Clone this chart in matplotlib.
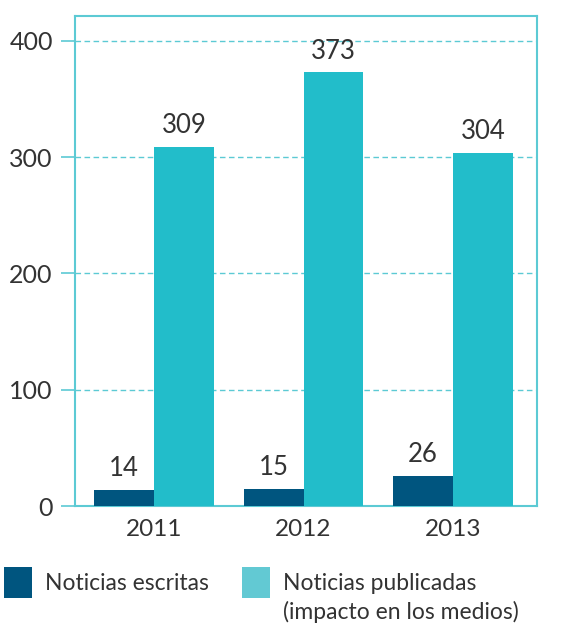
import matplotlib.pyplot as plt
import matplotlib.patches as patches
import numpy as np

years = ["2011", "2012", "2013"]
escritas = [14, 15, 26]
publicadas = [309, 373, 304]
yticks = [0, 100, 200, 300, 400]

DARK = "#00557F"
LIGHT = "#22BDCA"
LIGHT_LEG = "#62C9D3"
FRAME = "#5CCAD4"
TEXT = "#333333"

plt.rcParams['font.family'] = ['Lato', 'DejaVu Sans']
plt.rcParams['text.color'] = TEXT

fig = plt.figure(figsize=(5.88, 6.28), dpi=100)
ax = fig.add_axes([75 / 588, 1 - 506 / 628, 462 / 588, 490 / 628])

x = np.arange(len(years))
w = 0.40
b1 = ax.bar(x - w / 2, escritas, width=w, color=DARK, zorder=3)
b2 = ax.bar(x + w / 2, publicadas, width=w, color=LIGHT, zorder=3)

for bars, vals in [(b1, escritas), (b2, publicadas)]:
    for r, v in zip(bars, vals):
        ax.annotate(str(v), (r.get_x() + r.get_width() / 2, v), xytext=(0, 6),
                    textcoords="offset points", ha="center", va="bottom",
                    fontsize=18.5, color=TEXT)

ax.set_xlim(-0.53, 2.563)
ax.set_ylim(0, 421.5)
ax.set_yticks(yticks)
ax.set_xticks(x)
ax.set_xticklabels(years)
ax.tick_params(axis='y', length=10, width=1.2, color=FRAME, labelsize=18,
               labelcolor=TEXT, pad=6)
ax.tick_params(axis='x', length=0, labelsize=17.5, labelcolor=TEXT, pad=9)

ax.yaxis.grid(True, color=FRAME, linestyle=(0, (4, 2.5)), linewidth=1.0, zorder=1)
ax.xaxis.grid(False)
for s in ['left', 'top', 'right', 'bottom']:
    ax.spines[s].set_color(FRAME)
    ax.spines[s].set_linewidth(1.5)

# legend drawn in figure pixels
H = 628
fig.patches.append(patches.Rectangle((4 / 588, 1 - 598 / H), 28 / 588, 31 / H,
                                     facecolor=DARK, transform=fig.transFigure, figure=fig))
fig.text(45 / 588, 1 - 583 / H, "Noticias escritas", fontsize=16.5, va="center", color=TEXT)
fig.patches.append(patches.Rectangle((242 / 588, 1 - 598 / H), 28 / 588, 31 / H,
                                     facecolor=LIGHT_LEG, transform=fig.transFigure, figure=fig))
fig.text(283 / 588, 1 - 583 / H, "Noticias publicadas", fontsize=16.5, va="center", color=TEXT)
fig.text(283 / 588, 1 - 612 / H, "(impacto en los medios)", fontsize=16.5, va="center", color=TEXT)

fig.savefig("out.png", dpi=100, facecolor="white")
